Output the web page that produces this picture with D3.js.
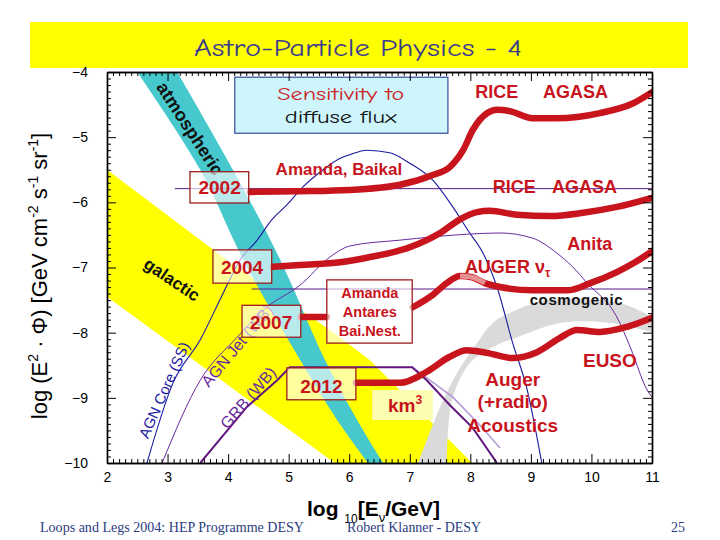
<!DOCTYPE html>
<html><head><meta charset="utf-8">
<script src="https://cdn.jsdelivr.net/npm/d3@7"></script>
<style>body{margin:0;background:#fff;} svg{display:block;}</style>
</head><body>
<script>
// ---------------- data ----------------
const xTicks = [2,3,4,5,6,7,8,9,10,11];
const yTicks = [-4,-5,-6,-7,-8,-9,-10];

// galactic band (yellow)
const galUpperX = [2.0, 4.03, 5.68, 6.34, 8.03];
const galUpperY = [-5.50, -6.92, -7.96, -8.42, -10.0];
const galLowerX = [2.0, 5.76];
const galLowerY = [-7.45, -10.0];

// atmospheric band (cyan)
const atmosY      = [-4.0, -5.5, -6.88, -8.42, -9.34, -10.0];
const atmosLeftX  = [2.50, 3.54, 4.25, 5.19, 5.80, 6.31];
const atmosRightX = [3.16, 4.08, 4.86, 5.60, 6.13, 6.56];

// cosmogenic band (grey)
const cosmoUpperX = [7.14, 7.50, 7.78, 8.11, 8.37, 8.77, 9.27, 10.14, 10.59, 11.0];
const cosmoUpperY = [-10.0, -9.14, -8.62, -8.16, -7.85, -7.65, -7.50, -7.50, -7.58, -7.76];
const cosmoLowerX = [7.61, 7.70, 7.99, 8.37, 8.77, 9.48, 10.31, 11.0];
const cosmoLowerY = [-10.0, -9.03, -8.47, -8.22, -8.07, -7.85, -7.85, -7.99];

// sensitivity curves (red)
const sens2002X = [4.36,5.19,6.01,6.84,7.38,7.66,7.88,8.04,8.28,8.44,8.65,9.03,9.43,10.14,10.69,11.0];
const sens2002Y = [-5.84,-5.83,-5.81,-5.73,-5.58,-5.46,-5.20,-4.89,-4.63,-4.58,-4.60,-4.71,-4.71,-4.63,-4.48,-4.31];
const sens2004X = [4.74,5.19,5.85,6.29,7.00,7.50,7.83,8.11,8.32,8.77,9.32,9.86,10.42,11.0];
const sens2004Y = [-6.99,-6.96,-6.92,-6.85,-6.69,-6.47,-6.26,-6.15,-6.13,-6.19,-6.21,-6.16,-6.07,-5.93];
const link2007X = [5.20, 5.63];
const link2007Y = [-7.76, -7.76];
const sens2007X = [7.05,7.38,7.61,7.83,8.03,8.24,8.49,9.03,9.60,9.98,10.42,10.72,11.0];
const sens2007Y = [-7.61,-7.42,-7.24,-7.13,-7.15,-7.24,-7.30,-7.35,-7.35,-7.24,-7.07,-6.92,-6.75];
const sens2012X = [6.11,6.84,7.28,7.66,7.94,8.27,8.70,9.10,9.48,9.76,10.14,10.59,11.0];
const sens2012Y = [-8.77,-8.77,-8.60,-8.37,-8.27,-8.31,-8.39,-8.30,-8.08,-7.96,-7.99,-7.91,-7.77];

// model predictions (thin lines)
const agnCoreX = [2.66,3.09,3.54,3.92,4.20,4.48,4.72,4.97,5.24,5.57,5.80,6.01,6.29,6.67,7.00,7.38,7.71,7.99,8.21,8.44,8.70,8.94,9.18];
const agnCoreY = [-10.0,-8.77,-8.11,-7.39,-6.88,-6.58,-6.27,-6.04,-5.76,-5.50,-5.35,-5.27,-5.20,-5.24,-5.40,-5.66,-6.07,-6.47,-6.78,-7.30,-8.16,-8.88,-10.0];
const agnJetX = [2.91,3.54,4.15,4.64,5.19,5.68,6.01,6.84,7.94,8.49,9.03,9.43,9.69,9.93,10.42,10.64,10.92,11.0];
const agnJetY = [-10.0,-8.73,-8.07,-7.61,-7.27,-6.84,-6.67,-6.58,-6.49,-6.47,-6.55,-6.78,-6.99,-7.24,-7.76,-8.22,-8.88,-8.99];
const grbX = [3.54,4.31,4.81,5.02,7.04,7.28,7.66,8.04,8.44];
const grbY = [-10.0,-9.14,-8.73,-8.53,-8.53,-8.73,-9.11,-9.46,-10.0];
const grbAltX = [7.04,7.71,8.16,8.49];
const grbAltY = [-8.53,-8.99,-9.42,-9.77];
const limitStartX = [3.12, 4.39];
const limitLevelY = [-5.79, -7.33];

// ---------------- drawing ----------------
const W = 720, H = 540;
const svg = d3.select("body").append("svg").attr("width", W).attr("height", H);
const x = d3.scaleLinear().domain([2, 11]).range([107, 652]);
const y = d3.scaleLinear().domain([-10, -4]).range([463, 72]);
const AR = "Arial, 'Liberation Sans', Helvetica, sans-serif";
const COMIC = "'Comic Sans MS', 'Comic Neue', 'Chalkboard', 'Open Sans', sans-serif";
const RED = "#c8141c";

// title banner
svg.append("rect").attr("x", 30).attr("y", 22).attr("width", 658).attr("height", 46).attr("fill", "#ffff00");
svg.append("text").attr("x", 358).attr("y", 56).attr("text-anchor", "middle")
  .attr("font-family", COMIC).attr("font-size", 25).attr("fill", "#3b3b8e")
  .attr("textLength", 328).attr("lengthAdjust", "spacingAndGlyphs")
  .text("Astro-Particle Physics - 4");

svg.append("defs").append("clipPath").attr("id", "plotclip")
  .append("rect").attr("x", 107).attr("y", 72).attr("width", 545).attr("height", 391);
const plot = svg.append("g").attr("clip-path", "url(#plotclip)");

const zip = (xs, ys) => xs.map((v, i) => [v, ys[i]]);
function bandPath(upper, lower, curve) {
  const ln = d3.line().x(d => x(d[0])).y(d => y(d[1])).curve(curve);
  const a = ln(upper);
  const b = ln(lower.slice().reverse());
  return a + "L" + b.slice(1) + "Z";
}

// galactic band
plot.append("path")
  .attr("d", bandPath(zip(galUpperX, galUpperY), zip(galLowerX, galLowerY), d3.curveLinear))
  .attr("fill", "#ffff00");
// km3 patch
plot.append("rect").attr("x", x(6.38)).attr("y", y(-8.88))
  .attr("width", x(7.38) - x(6.38)).attr("height", y(-9.34) - y(-8.88)).attr("fill", "#fdfdb2");
// atmospheric band
plot.append("path")
  .attr("d", bandPath(zip(atmosLeftX, atmosY), zip(atmosRightX, atmosY), d3.curveCatmullRom))
  .attr("fill", "#46c8cc");
// cosmogenic band
plot.append("path")
  .attr("d", bandPath(zip(cosmoUpperX, cosmoUpperY), zip(cosmoLowerX, cosmoLowerY), d3.curveCatmullRom))
  .attr("fill", "#dadada");

// thin model lines
const lineM = d3.line().x(d => x(d[0])).y(d => y(d[1])).curve(d3.curveMonotoneX);
const lineL = d3.line().x(d => x(d[0])).y(d => y(d[1]));
limitStartX.forEach((x0, i) => {
  plot.append("line").attr("x1", x(x0)).attr("x2", x(11)).attr("y1", y(limitLevelY[i])).attr("y2", y(limitLevelY[i]))
    .attr("stroke", "#5a1a8c").attr("stroke-width", 1);
});
plot.append("path").attr("d", lineM(zip(agnCoreX, agnCoreY))).attr("fill", "none").attr("stroke", "#1a1aa0").attr("stroke-width", 1.1);
plot.append("path").attr("d", lineM(zip(agnJetX, agnJetY))).attr("fill", "none").attr("stroke", "#6a2a9e").attr("stroke-width", 1);
plot.append("path").attr("d", lineL(zip(grbAltX, grbAltY))).attr("fill", "none").attr("stroke", "#b59ad6").attr("stroke-width", 1.6);
plot.append("path").attr("d", lineL(zip(grbX, grbY))).attr("fill", "none").attr("stroke", "#62167e").attr("stroke-width", 2);

// rotated labels
function rlabel(txt, dx, dy, ang, size, color, weight) {
  plot.append("text").attr("transform", `translate(${x(dx)},${y(dy)}) rotate(${ang})`)
    .attr("text-anchor", "middle").attr("dominant-baseline", "central")
    .attr("font-family", AR).attr("font-size", size).attr("font-weight", weight).attr("fill", color).text(txt);
}
rlabel("atmospheric", 3.37, -4.87, 57, 18, "#111", "bold");
rlabel("galactic", 3.07, -7.19, 34, 17, "#111", "bold");
rlabel("AGN Core (SS)", 2.94, -8.88, -66, 15, "#1a1aa0", "normal");
rlabel("AGN Jet (WB)", 4.15, -8.20, -50, 16, "#6a2a9e", "normal");
rlabel("GRB (WB)", 4.33, -9.00, -49, 16, "#6a2a9e", "normal");

// red sensitivity curves
function redCurve(xs, ys) {
  plot.append("path").attr("d", lineM(zip(xs, ys))).attr("fill", "none")
    .attr("stroke", RED).attr("stroke-width", 6.5).attr("stroke-linecap", "round").attr("stroke-linejoin", "round");
}
redCurve(sens2002X, sens2002Y);
redCurve(sens2004X, sens2004Y);
redCurve(link2007X, link2007Y);
redCurve(sens2007X, sens2007Y);
redCurve(sens2012X, sens2012Y);
// faded segment on the AUGER curve
plot.append("path").attr("d", lineM(zip(sens2007X, sens2007Y).slice(3, 6))).attr("fill", "none")
  .attr("stroke", "#e39090").attr("stroke-width", 5);

// boxes with years
function yearBox(x0, x1, y0, y1, fill) {
  plot.append("rect").attr("x", x(x0)).attr("y", y(y0)).attr("width", x(x1) - x(x0)).attr("height", y(y1) - y(y0))
    .attr("fill", fill).attr("fill-opacity", 0.62).attr("stroke", "#9c1c1c").attr("stroke-width", 1.3);
}
function redText(txt, dx, dy, size, anchor) {
  plot.append("text").attr("x", x(dx)).attr("y", y(dy)).attr("text-anchor", anchor || "middle")
    .attr("font-family", AR).attr("font-weight", "bold").attr("font-size", size).attr("fill", RED).text(txt);
}
yearBox(3.37, 4.34, -5.53, -6.01, "#fff");
redText("2002", 3.86, -5.87, 19);
yearBox(3.75, 4.72, -6.73, -7.24, "#fff");
redText("2004", 4.23, -7.10, 19);
yearBox(4.23, 5.20, -7.58, -8.07, "#fff");
redText("2007", 4.71, -7.94, 19);
yearBox(4.97, 6.11, -8.54, -9.03, "#fff");
redText("2012", 5.54, -8.92, 19);
yearBox(5.63, 7.04, -7.19, -8.16, "#fff");
redText("Amanda", 6.34, -7.47, 14.5);
redText("Antares", 6.34, -7.76, 14.5);
redText("Bai.Nest.", 6.34, -8.05, 14.5);

// experiment labels
redText("Amanda, Baikal", 5.83, -5.58, 17);
redText("RICE", 8.08, -4.40, 18, "start");
redText("AGASA", 9.20, -4.40, 18, "start");
redText("RICE", 8.37, -5.86, 18, "start");
redText("AGASA", 9.35, -5.86, 18, "start");
redText("Anita", 9.60, -6.73, 18, "start");
const aug = plot.append("text").attr("x", x(7.91)).attr("y", y(-7.08)).attr("font-family", AR)
  .attr("font-weight", "bold").attr("font-size", 18).attr("fill", RED);
aug.append("tspan").text("AUGER ν");
aug.append("tspan").attr("font-size", 12).attr("dy", 4).text("τ");
redText("EUSO", 9.86, -8.53, 19, "start");
redText("Auger", 8.70, -8.82, 19);
redText("(+radio)", 8.70, -9.16, 19);
redText("Acoustics", 8.70, -9.52, 19);
const km = plot.append("text").attr("x", x(6.64)).attr("y", y(-9.22)).attr("font-family", AR)
  .attr("font-weight", "bold").attr("font-size", 19).attr("fill", RED);
km.append("tspan").text("km");
km.append("tspan").attr("font-size", 12).attr("dy", -8).text("3");
plot.append("text").attr("x", x(8.98)).attr("y", y(-7.58)).attr("font-family", AR)
  .attr("font-weight", "bold").attr("font-size", 15).attr("letter-spacing", 0.6).attr("fill", "#111")
  .text("cosmogenic");

// sensitivity box
plot.append("rect").attr("x", x(4.11)).attr("y", y(-4.08)).attr("width", x(7.63) - x(4.11)).attr("height", y(-4.94) - y(-4.08))
  .attr("fill", "#cdf5fb").attr("stroke", "#3a4a9a").attr("stroke-width", 1.2);
plot.append("text").attr("x", x(5.86)).attr("y", y(-4.43)).attr("text-anchor", "middle")
  .attr("font-family", COMIC).attr("font-size", 18).attr("fill", "#cc2222")
  .attr("textLength", 127).attr("lengthAdjust", "spacingAndGlyphs").text("Sensitivity to");
plot.append("text").attr("x", x(5.86)).attr("y", y(-4.78)).attr("text-anchor", "middle")
  .attr("font-family", COMIC).attr("font-size", 18).attr("fill", "#111")
  .attr("textLength", 112).attr("lengthAdjust", "spacingAndGlyphs").text("diffuse flux");

// ---------------- axes ----------------
const xMinor = d3.range(20, 111).map(v => v / 10).filter(v => Math.abs(v - Math.round(v)) > 1e-6);
const yMinor = d3.range(-100, -39).map(v => v / 10).filter(v => Math.abs(v - Math.round(v)) > 1e-6);
const fmtY = d => "\u2212" + Math.abs(d);
function axes(gen, tr, major, minor, labels, fmt, pad) {
  const g1 = svg.append("g").attr("transform", tr)
    .call(gen.tickValues(minor).tickSize(-4).tickSizeOuter(0).tickFormat(""));
  const g2 = svg.append("g").attr("transform", tr)
    .call(gen.tickValues(major).tickSize(-9).tickSizeOuter(0).tickPadding(pad).tickFormat(labels ? fmt : ""));
  [g1, g2].forEach(g => {
    g.selectAll("line").attr("stroke", "#000").attr("stroke-width", 1);
    g.select(".domain").attr("stroke", "#000").attr("stroke-width", 1.4);
    g.selectAll("text").attr("font-family", AR).attr("font-size", 14).attr("fill", "#000");
  });
}
axes(d3.axisBottom(x), "translate(0,463)", xTicks, xMinor, true, d3.format("d"), 9);
axes(d3.axisTop(x), "translate(0,72)", xTicks, xMinor, false, null, 3);
axes(d3.axisLeft(y), "translate(107,0)", yTicks, yMinor, true, fmtY, 19);
axes(d3.axisRight(y), "translate(652,0)", yTicks, yMinor, false, null, 3);

// axis titles
const yt = svg.append("text").attr("transform", "translate(47,276) rotate(-90)").attr("text-anchor", "middle")
  .attr("font-family", AR).attr("font-size", 22).attr("fill", "#000");
yt.append("tspan").text("log (E");
yt.append("tspan").attr("font-size", 14).attr("dy", -9).text("2");
yt.append("tspan").attr("dy", 9).text(" \u00B7 \u03A6)  [GeV cm");
yt.append("tspan").attr("font-size", 14).attr("dy", -9).text("-2");
yt.append("tspan").attr("dy", 9).text(" s");
yt.append("tspan").attr("font-size", 14).attr("dy", -9).text("-1");
yt.append("tspan").attr("dy", 9).text(" sr");
yt.append("tspan").attr("font-size", 14).attr("dy", -9).text("-1");
yt.append("tspan").attr("dy", 9).text("]");

const xt = svg.append("text").attr("x", 307).attr("y", 516)
  .attr("font-family", AR).attr("font-weight", "bold").attr("font-size", 21).attr("fill", "#000");
xt.append("tspan").text("log ");
xt.append("tspan").attr("font-size", 12).attr("font-weight", "normal").attr("dy", 7).text("10");
xt.append("tspan").attr("dy", -7).text("[E");
xt.append("tspan").attr("font-size", 13).attr("font-weight", "normal").attr("dy", 6).text("\u03BD");
xt.append("tspan").attr("dy", -6).text("/GeV]");

// footer
const SERIF = "'Times New Roman', 'Liberation Serif', serif";
svg.append("text").attr("x", 40).attr("y", 532).attr("font-family", SERIF).attr("font-size", 14).attr("fill", "#2c3c82")
  .attr("textLength", 264).attr("lengthAdjust", "spacingAndGlyphs").text("Loops and Legs 2004: HEP Programme DESY");
svg.append("text").attr("x", 347).attr("y", 532).attr("font-family", SERIF).attr("font-size", 14).attr("fill", "#2c3c82")
  .attr("textLength", 134).attr("lengthAdjust", "spacingAndGlyphs").text("Robert Klanner - DESY");
svg.append("text").attr("x", 671).attr("y", 532).attr("font-family", SERIF).attr("font-size", 14).attr("fill", "#2c3c82")
  .text("25");
</script>
</body></html>
